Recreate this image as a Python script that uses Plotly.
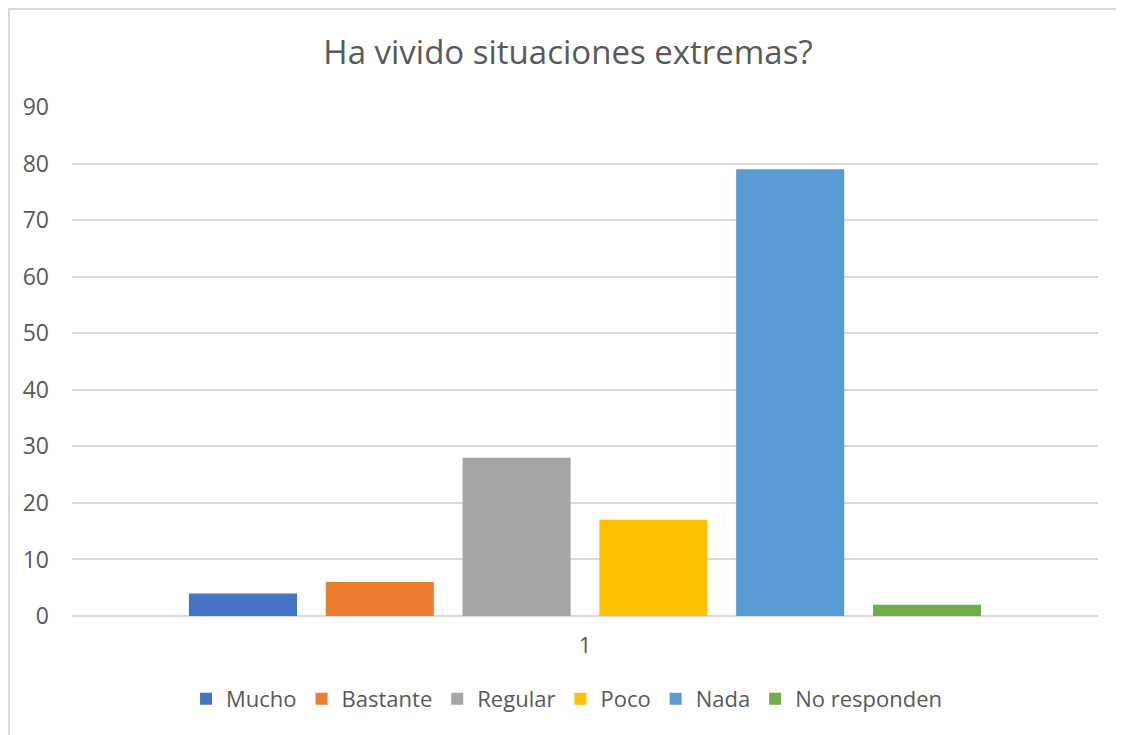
import plotly.graph_objects as go

# data
categories = ["1"]
series_names = ["Mucho", "Bastante", "Regular", "Poco", "Nada", "No responden"]
series_values = [4, 6, 28, 17, 79, 2]
series_colors = ["#4472C4", "#ED7D31", "#A5A5A5", "#FFC000", "#5B9BD5", "#70AD47"]
y_ticks = [0, 10, 20, 30, 40, 50, 60, 70, 80, 90]

fig = go.Figure()
for name, val, col in zip(series_names, series_values, series_colors):
    fig.add_trace(go.Bar(x=categories, y=[val], name=name, marker=dict(color=col, line=dict(width=0))))

grey_text = "#595959"
# the page body has an 8px margin, so the figure starts at (8, 8)
fig.update_layout(
    width=1124, height=735,
    paper_bgcolor="white", plot_bgcolor="white",
    font=dict(family="Open Sans", color=grey_text),
    title=dict(text="Ha vivido situaciones extremas?", x=(568 - 8) / 1124, xanchor="center",
               y=1 - 44 / 735, yanchor="middle",
               font=dict(size=33, color=grey_text)),
    margin=dict(l=64, r=34, t=99, b=127),
    barmode="group", bargap=0.2, bargroupgap=0.21,
    xaxis=dict(type="category", showgrid=False, showline=False, zeroline=False, automargin=False,
               tickfont=dict(size=22, color=grey_text), ticks="", ticklabelstandoff=14),
    yaxis=dict(range=[0, 90], tickvals=y_ticks, showgrid=True, gridcolor="#d9d9d9",
               gridwidth=1.5, zeroline=True, zerolinecolor="#d9d9d9", zerolinewidth=1.5,
               showline=False, ticks="", ticklabelstandoff=22, automargin=False,
               tickfont=dict(size=23, color=grey_text)),
    legend=dict(orientation="h", x=0.482, xanchor="center", y=-0.163, yanchor="middle",
                font=dict(size=22, color=grey_text), itemwidth=30, traceorder="normal"),
    shapes=[dict(type="rect", xref="paper", yref="paper",
                 x0=-63 / 1026, x1=1051 / 1026,
                 y0=-150 / 509, y1=607 / 509,
                 line=dict(color="#d9d9d9", width=2), layer="below")],
)

fig.write_html("out.html")
